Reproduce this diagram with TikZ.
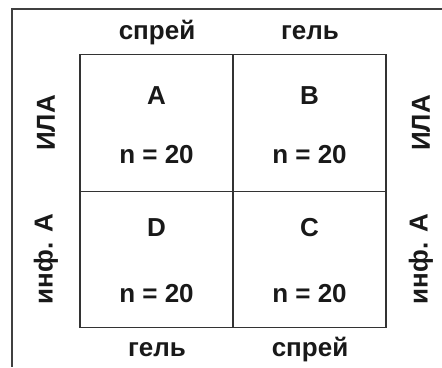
\documentclass[tikz,border=0pt]{standalone}
\usepackage{fontspec}
\setmainfont{Liberation Sans}
\begin{document}
\begin{tikzpicture}[x=1pt,y=-1pt,
  lbl/.style={font=\fontsize{26}{30}\selectfont\bfseries, text=black!90, inner sep=0pt, anchor=center},
  cell/.style={draw=black!80, line width=1.1pt, minimum width=153pt, minimum height=136.5pt, inner sep=0pt},
  frame/.style={draw=black!75, line width=1.6pt}]
\useasboundingbox (0,0) rectangle (442,367);
% frame
\coordinate (ftr) at (442,9);
\coordinate (ftl) at (12,9);
\coordinate (fbl) at (12,367);
\draw[frame] (ftr) -- (ftl) -- (fbl);
% cells
\node[cell] (cA) at (156.5,123) {};
\node[cell] (cB) at (309.5,123) {};
\node[cell] (cD) at (156.5,259.5) {};
\node[cell] (cC) at (309.5,259.5) {};
% cell texts
\node[lbl] (tA) at (156.5,96) {A};
\node[lbl] (nA) at (156.5,155) {n = 20};
\node[lbl] (tB) at (309.5,96) {B};
\node[lbl] (nB) at (309.5,155) {n = 20};
\node[lbl] (tD) at (156.5,228) {D};
\node[lbl] (nD) at (156.5,294) {n = 20};
\node[lbl] (tC) at (309.5,228) {C};
\node[lbl] (nC) at (309.5,294) {n = 20};
% column labels
\node[lbl] (top1) at (157,33) {спрей};
\node[lbl] (top2) at (310,33) {гель};
\node[lbl] (bot1) at (157,350) {гель};
\node[lbl] (bot2) at (310,350) {спрей};
% row labels
\node[lbl, rotate=90] (l1) at (46,123) {ИЛА};
\node[lbl, rotate=90] (l2) at (46,259) {инф. А};
\node[lbl, rotate=90] (r1) at (421,123) {ИЛА};
\node[lbl, rotate=90] (r2) at (421,259) {инф. А};
\end{tikzpicture}
\end{document}
